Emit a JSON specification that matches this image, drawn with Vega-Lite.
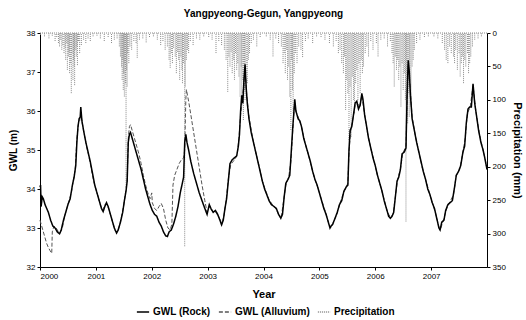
{
"$schema": "https://vega.github.io/schema/vega-lite/v6.json",
"width": 447, "height": 234,
"autosize": {"type": "none"},
"padding": {"left": 40, "top": 33, "right": 39, "bottom": 53},
"background": "white",
"title": {"text": "Yangpyeong-Gegun, Yangpyeong", "font": "Liberation Sans", "fontSize": 10, "fontWeight": "bold", "anchor": "middle", "offset": 10, "color": "black"},
"config": {
 "view": {"stroke": null},
 "axis": {"grid": false, "labelFont": "Liberation Sans", "titleFont": "Liberation Sans", "labelFontSize": 8, "titleFontSize": 10, "titleFontWeight": "bold", "domainColor": "black", "tickColor": "black", "labelColor": "black", "titleColor": "black", "tickSize": 3, "labelOverlap": false}
},
"datasets": {
 "rock": [
{"series":"GWL (Rock)","year":2000.00,"gwl":34.05},{"series":"GWL (Rock)","year":2000.01,"gwl":34.1},{"series":"GWL (Rock)","year":2000.02,"gwl":33.55},{"series":"GWL (Rock)","year":2000.04,"gwl":33.8},{"series":"GWL (Rock)","year":2000.06,"gwl":33.75},{"series":"GWL (Rock)","year":2000.09,"gwl":33.6},{"series":"GWL (Rock)","year":2000.12,"gwl":33.5},{"series":"GWL (Rock)","year":2000.15,"gwl":33.4},{"series":"GWL (Rock)","year":2000.19,"gwl":33.2},{"series":"GWL (Rock)","year":2000.23,"gwl":33.05},{"series":"GWL (Rock)","year":2000.27,"gwl":33.0},{"series":"GWL (Rock)","year":2000.31,"gwl":32.9},{"series":"GWL (Rock)","year":2000.35,"gwl":32.85},{"series":"GWL (Rock)","year":2000.38,"gwl":32.95},{"series":"GWL (Rock)","year":2000.42,"gwl":33.2},{"series":"GWL (Rock)","year":2000.46,"gwl":33.4},{"series":"GWL (Rock)","year":2000.50,"gwl":33.6},{"series":"GWL (Rock)","year":2000.54,"gwl":33.75},{"series":"GWL (Rock)","year":2000.58,"gwl":34.1},{"series":"GWL (Rock)","year":2000.61,"gwl":34.3},{"series":"GWL (Rock)","year":2000.64,"gwl":34.6},{"series":"GWL (Rock)","year":2000.66,"gwl":35.2},{"series":"GWL (Rock)","year":2000.68,"gwl":35.6},{"series":"GWL (Rock)","year":2000.70,"gwl":35.8},{"series":"GWL (Rock)","year":2000.72,"gwl":35.85},{"series":"GWL (Rock)","year":2000.73,"gwl":36.1},{"series":"GWL (Rock)","year":2000.75,"gwl":35.75},{"series":"GWL (Rock)","year":2000.78,"gwl":35.5},{"series":"GWL (Rock)","year":2000.82,"gwl":35.2},{"series":"GWL (Rock)","year":2000.86,"gwl":34.95},{"series":"GWL (Rock)","year":2000.90,"gwl":34.7},{"series":"GWL (Rock)","year":2000.94,"gwl":34.4},{"series":"GWL (Rock)","year":2000.98,"gwl":34.1},{"series":"GWL (Rock)","year":2001.02,"gwl":33.9},{"series":"GWL (Rock)","year":2001.06,"gwl":33.7},{"series":"GWL (Rock)","year":2001.10,"gwl":33.5},{"series":"GWL (Rock)","year":2001.13,"gwl":33.42},{"series":"GWL (Rock)","year":2001.16,"gwl":33.55},{"series":"GWL (Rock)","year":2001.19,"gwl":33.65},{"series":"GWL (Rock)","year":2001.22,"gwl":33.55},{"series":"GWL (Rock)","year":2001.25,"gwl":33.4},{"series":"GWL (Rock)","year":2001.29,"gwl":33.2},{"series":"GWL (Rock)","year":2001.33,"gwl":33.0},{"series":"GWL (Rock)","year":2001.37,"gwl":32.87},{"series":"GWL (Rock)","year":2001.40,"gwl":32.95},{"series":"GWL (Rock)","year":2001.44,"gwl":33.15},{"series":"GWL (Rock)","year":2001.48,"gwl":33.4},{"series":"GWL (Rock)","year":2001.51,"gwl":33.7},{"series":"GWL (Rock)","year":2001.54,"gwl":33.95},{"series":"GWL (Rock)","year":2001.56,"gwl":34.2},{"series":"GWL (Rock)","year":2001.58,"gwl":35.2},{"series":"GWL (Rock)","year":2001.60,"gwl":35.4},{"series":"GWL (Rock)","year":2001.62,"gwl":35.45},{"series":"GWL (Rock)","year":2001.65,"gwl":35.3},{"series":"GWL (Rock)","year":2001.69,"gwl":35.1},{"series":"GWL (Rock)","year":2001.73,"gwl":34.9},{"series":"GWL (Rock)","year":2001.77,"gwl":34.7},{"series":"GWL (Rock)","year":2001.81,"gwl":34.5},{"series":"GWL (Rock)","year":2001.85,"gwl":34.25},{"series":"GWL (Rock)","year":2001.89,"gwl":34.0},{"series":"GWL (Rock)","year":2001.93,"gwl":33.8},{"series":"GWL (Rock)","year":2001.97,"gwl":33.6},{"series":"GWL (Rock)","year":2002.01,"gwl":33.45},{"series":"GWL (Rock)","year":2002.05,"gwl":33.35},{"series":"GWL (Rock)","year":2002.09,"gwl":33.3},{"series":"GWL (Rock)","year":2002.13,"gwl":33.15},{"series":"GWL (Rock)","year":2002.17,"gwl":33.05},{"series":"GWL (Rock)","year":2002.21,"gwl":32.9},{"series":"GWL (Rock)","year":2002.25,"gwl":32.8},{"series":"GWL (Rock)","year":2002.28,"gwl":32.78},{"series":"GWL (Rock)","year":2002.31,"gwl":32.9},{"series":"GWL (Rock)","year":2002.35,"gwl":32.95},{"series":"GWL (Rock)","year":2002.39,"gwl":33.1},{"series":"GWL (Rock)","year":2002.43,"gwl":33.3},{"series":"GWL (Rock)","year":2002.47,"gwl":33.55},{"series":"GWL (Rock)","year":2002.51,"gwl":33.9},{"series":"GWL (Rock)","year":2002.54,"gwl":34.1},{"series":"GWL (Rock)","year":2002.57,"gwl":34.3},{"series":"GWL (Rock)","year":2002.59,"gwl":35.2},{"series":"GWL (Rock)","year":2002.61,"gwl":35.4},{"series":"GWL (Rock)","year":2002.63,"gwl":35.2},{"series":"GWL (Rock)","year":2002.66,"gwl":35.0},{"series":"GWL (Rock)","year":2002.70,"gwl":34.7},{"series":"GWL (Rock)","year":2002.75,"gwl":34.4},{"series":"GWL (Rock)","year":2002.80,"gwl":34.15},{"series":"GWL (Rock)","year":2002.85,"gwl":33.9},{"series":"GWL (Rock)","year":2002.90,"gwl":33.7},{"series":"GWL (Rock)","year":2002.95,"gwl":33.5},{"series":"GWL (Rock)","year":2002.99,"gwl":33.35},{"series":"GWL (Rock)","year":2003.03,"gwl":33.6},{"series":"GWL (Rock)","year":2003.06,"gwl":33.5},{"series":"GWL (Rock)","year":2003.10,"gwl":33.4},{"series":"GWL (Rock)","year":2003.14,"gwl":33.45},{"series":"GWL (Rock)","year":2003.18,"gwl":33.35},{"series":"GWL (Rock)","year":2003.22,"gwl":33.2},{"series":"GWL (Rock)","year":2003.25,"gwl":33.08},{"series":"GWL (Rock)","year":2003.28,"gwl":33.2},{"series":"GWL (Rock)","year":2003.31,"gwl":33.5},{"series":"GWL (Rock)","year":2003.34,"gwl":33.75},{"series":"GWL (Rock)","year":2003.37,"gwl":34.2},{"series":"GWL (Rock)","year":2003.40,"gwl":34.65},{"series":"GWL (Rock)","year":2003.44,"gwl":34.75},{"series":"GWL (Rock)","year":2003.48,"gwl":34.8},{"series":"GWL (Rock)","year":2003.52,"gwl":34.85},{"series":"GWL (Rock)","year":2003.55,"gwl":35.1},{"series":"GWL (Rock)","year":2003.57,"gwl":35.4},{"series":"GWL (Rock)","year":2003.59,"gwl":36.0},{"series":"GWL (Rock)","year":2003.61,"gwl":36.4},{"series":"GWL (Rock)","year":2003.63,"gwl":36.2},{"series":"GWL (Rock)","year":2003.65,"gwl":36.8},{"series":"GWL (Rock)","year":2003.67,"gwl":37.2},{"series":"GWL (Rock)","year":2003.69,"gwl":36.6},{"series":"GWL (Rock)","year":2003.71,"gwl":36.2},{"series":"GWL (Rock)","year":2003.74,"gwl":35.8},{"series":"GWL (Rock)","year":2003.78,"gwl":35.45},{"series":"GWL (Rock)","year":2003.82,"gwl":35.2},{"series":"GWL (Rock)","year":2003.86,"gwl":34.95},{"series":"GWL (Rock)","year":2003.90,"gwl":34.7},{"series":"GWL (Rock)","year":2003.94,"gwl":34.45},{"series":"GWL (Rock)","year":2003.98,"gwl":34.2},{"series":"GWL (Rock)","year":2004.02,"gwl":34.0},{"series":"GWL (Rock)","year":2004.06,"gwl":33.85},{"series":"GWL (Rock)","year":2004.10,"gwl":33.7},{"series":"GWL (Rock)","year":2004.14,"gwl":33.6},{"series":"GWL (Rock)","year":2004.19,"gwl":33.55},{"series":"GWL (Rock)","year":2004.23,"gwl":33.5},{"series":"GWL (Rock)","year":2004.27,"gwl":33.35},{"series":"GWL (Rock)","year":2004.31,"gwl":33.25},{"series":"GWL (Rock)","year":2004.34,"gwl":33.35},{"series":"GWL (Rock)","year":2004.37,"gwl":33.8},{"series":"GWL (Rock)","year":2004.40,"gwl":34.15},{"series":"GWL (Rock)","year":2004.44,"gwl":34.25},{"series":"GWL (Rock)","year":2004.47,"gwl":34.35},{"series":"GWL (Rock)","year":2004.49,"gwl":34.8},{"series":"GWL (Rock)","year":2004.52,"gwl":35.5},{"series":"GWL (Rock)","year":2004.54,"gwl":35.9},{"series":"GWL (Rock)","year":2004.56,"gwl":36.3},{"series":"GWL (Rock)","year":2004.58,"gwl":36.0},{"series":"GWL (Rock)","year":2004.60,"gwl":35.9},{"series":"GWL (Rock)","year":2004.62,"gwl":35.8},{"series":"GWL (Rock)","year":2004.65,"gwl":35.75},{"series":"GWL (Rock)","year":2004.68,"gwl":35.6},{"series":"GWL (Rock)","year":2004.72,"gwl":35.3},{"series":"GWL (Rock)","year":2004.76,"gwl":35.1},{"series":"GWL (Rock)","year":2004.80,"gwl":34.9},{"series":"GWL (Rock)","year":2004.84,"gwl":34.7},{"series":"GWL (Rock)","year":2004.88,"gwl":34.45},{"series":"GWL (Rock)","year":2004.92,"gwl":34.25},{"series":"GWL (Rock)","year":2004.96,"gwl":34.1},{"series":"GWL (Rock)","year":2005.00,"gwl":33.9},{"series":"GWL (Rock)","year":2005.04,"gwl":33.7},{"series":"GWL (Rock)","year":2005.08,"gwl":33.5},{"series":"GWL (Rock)","year":2005.12,"gwl":33.35},{"series":"GWL (Rock)","year":2005.16,"gwl":33.15},{"series":"GWL (Rock)","year":2005.19,"gwl":33.0},{"series":"GWL (Rock)","year":2005.21,"gwl":33.05},{"series":"GWL (Rock)","year":2005.24,"gwl":33.1},{"series":"GWL (Rock)","year":2005.28,"gwl":33.25},{"series":"GWL (Rock)","year":2005.32,"gwl":33.4},{"series":"GWL (Rock)","year":2005.36,"gwl":33.6},{"series":"GWL (Rock)","year":2005.40,"gwl":33.7},{"series":"GWL (Rock)","year":2005.44,"gwl":33.95},{"series":"GWL (Rock)","year":2005.48,"gwl":34.05},{"series":"GWL (Rock)","year":2005.51,"gwl":34.1},{"series":"GWL (Rock)","year":2005.53,"gwl":35.0},{"series":"GWL (Rock)","year":2005.55,"gwl":35.5},{"series":"GWL (Rock)","year":2005.58,"gwl":35.6},{"series":"GWL (Rock)","year":2005.61,"gwl":35.9},{"series":"GWL (Rock)","year":2005.64,"gwl":36.2},{"series":"GWL (Rock)","year":2005.67,"gwl":36.25},{"series":"GWL (Rock)","year":2005.70,"gwl":36.05},{"series":"GWL (Rock)","year":2005.73,"gwl":36.15},{"series":"GWL (Rock)","year":2005.76,"gwl":36.45},{"series":"GWL (Rock)","year":2005.78,"gwl":36.3},{"series":"GWL (Rock)","year":2005.81,"gwl":35.9},{"series":"GWL (Rock)","year":2005.84,"gwl":35.65},{"series":"GWL (Rock)","year":2005.88,"gwl":35.3},{"series":"GWL (Rock)","year":2005.92,"gwl":35.05},{"series":"GWL (Rock)","year":2005.96,"gwl":34.8},{"series":"GWL (Rock)","year":2006.00,"gwl":34.6},{"series":"GWL (Rock)","year":2006.04,"gwl":34.35},{"series":"GWL (Rock)","year":2006.08,"gwl":34.15},{"series":"GWL (Rock)","year":2006.12,"gwl":33.95},{"series":"GWL (Rock)","year":2006.16,"gwl":33.7},{"series":"GWL (Rock)","year":2006.20,"gwl":33.5},{"series":"GWL (Rock)","year":2006.24,"gwl":33.3},{"series":"GWL (Rock)","year":2006.27,"gwl":33.25},{"series":"GWL (Rock)","year":2006.30,"gwl":33.3},{"series":"GWL (Rock)","year":2006.33,"gwl":33.4},{"series":"GWL (Rock)","year":2006.36,"gwl":33.8},{"series":"GWL (Rock)","year":2006.39,"gwl":34.2},{"series":"GWL (Rock)","year":2006.42,"gwl":34.3},{"series":"GWL (Rock)","year":2006.45,"gwl":34.5},{"series":"GWL (Rock)","year":2006.48,"gwl":34.9},{"series":"GWL (Rock)","year":2006.52,"gwl":34.95},{"series":"GWL (Rock)","year":2006.55,"gwl":35.05},{"series":"GWL (Rock)","year":2006.57,"gwl":36.4},{"series":"GWL (Rock)","year":2006.59,"gwl":37.3},{"series":"GWL (Rock)","year":2006.61,"gwl":37.0},{"series":"GWL (Rock)","year":2006.63,"gwl":36.4},{"series":"GWL (Rock)","year":2006.66,"gwl":35.8},{"series":"GWL (Rock)","year":2006.70,"gwl":35.5},{"series":"GWL (Rock)","year":2006.74,"gwl":35.2},{"series":"GWL (Rock)","year":2006.78,"gwl":34.95},{"series":"GWL (Rock)","year":2006.82,"gwl":34.7},{"series":"GWL (Rock)","year":2006.86,"gwl":34.45},{"series":"GWL (Rock)","year":2006.90,"gwl":34.25},{"series":"GWL (Rock)","year":2006.94,"gwl":34.0},{"series":"GWL (Rock)","year":2006.98,"gwl":33.85},{"series":"GWL (Rock)","year":2007.02,"gwl":33.65},{"series":"GWL (Rock)","year":2007.06,"gwl":33.5},{"series":"GWL (Rock)","year":2007.10,"gwl":33.25},{"series":"GWL (Rock)","year":2007.14,"gwl":33.0},{"series":"GWL (Rock)","year":2007.16,"gwl":32.95},{"series":"GWL (Rock)","year":2007.19,"gwl":33.15},{"series":"GWL (Rock)","year":2007.23,"gwl":33.2},{"series":"GWL (Rock)","year":2007.26,"gwl":33.45},{"series":"GWL (Rock)","year":2007.30,"gwl":33.6},{"series":"GWL (Rock)","year":2007.34,"gwl":33.65},{"series":"GWL (Rock)","year":2007.38,"gwl":33.7},{"series":"GWL (Rock)","year":2007.42,"gwl":34.05},{"series":"GWL (Rock)","year":2007.45,"gwl":34.35},{"series":"GWL (Rock)","year":2007.49,"gwl":34.45},{"series":"GWL (Rock)","year":2007.53,"gwl":34.6},{"series":"GWL (Rock)","year":2007.57,"gwl":34.95},{"series":"GWL (Rock)","year":2007.60,"gwl":35.1},{"series":"GWL (Rock)","year":2007.63,"gwl":35.7},{"series":"GWL (Rock)","year":2007.66,"gwl":36.05},{"series":"GWL (Rock)","year":2007.69,"gwl":36.1},{"series":"GWL (Rock)","year":2007.72,"gwl":36.1},{"series":"GWL (Rock)","year":2007.75,"gwl":36.7},{"series":"GWL (Rock)","year":2007.78,"gwl":36.2},{"series":"GWL (Rock)","year":2007.81,"gwl":35.9},{"series":"GWL (Rock)","year":2007.85,"gwl":35.5},{"series":"GWL (Rock)","year":2007.89,"gwl":35.2},{"series":"GWL (Rock)","year":2007.93,"gwl":35.0},{"series":"GWL (Rock)","year":2007.96,"gwl":34.8},{"series":"GWL (Rock)","year":2008.00,"gwl":34.5}
 ],
 "alluvium": [
{"series":"GWL (Alluvium)","year":2000.00,"gwl":33.2},{"series":"GWL (Alluvium)","year":2000.03,"gwl":33.05},{"series":"GWL (Alluvium)","year":2000.06,"gwl":32.9},{"series":"GWL (Alluvium)","year":2000.09,"gwl":32.75},{"series":"GWL (Alluvium)","year":2000.12,"gwl":32.6},{"series":"GWL (Alluvium)","year":2000.15,"gwl":32.5},{"series":"GWL (Alluvium)","year":2000.18,"gwl":32.42},{"series":"GWL (Alluvium)","year":2000.21,"gwl":32.35},{"series":"GWL (Alluvium)","year":2000.22,"gwl":32.9},{"series":"GWL (Alluvium)","year":2000.25,"gwl":33.05},{"series":"GWL (Alluvium)","year":2000.29,"gwl":33.0},{"series":"GWL (Alluvium)","year":2000.33,"gwl":32.9},{"series":"GWL (Alluvium)","year":2000.36,"gwl":32.88},{"series":"GWL (Alluvium)","year":2000.40,"gwl":33.0},{"series":"GWL (Alluvium)","year":2000.44,"gwl":33.3},{"series":"GWL (Alluvium)","year":2000.48,"gwl":33.5},{"series":"GWL (Alluvium)","year":2000.52,"gwl":33.7},{"series":"GWL (Alluvium)","year":2000.56,"gwl":33.9},{"series":"GWL (Alluvium)","year":2000.60,"gwl":34.25},{"series":"GWL (Alluvium)","year":2000.63,"gwl":34.5},{"series":"GWL (Alluvium)","year":2000.66,"gwl":35.3},{"series":"GWL (Alluvium)","year":2000.69,"gwl":35.7},{"series":"GWL (Alluvium)","year":2000.71,"gwl":35.75},{"series":"GWL (Alluvium)","year":2000.73,"gwl":35.95},{"series":"GWL (Alluvium)","year":2000.76,"gwl":35.65},{"series":"GWL (Alluvium)","year":2000.80,"gwl":35.35},{"series":"GWL (Alluvium)","year":2000.84,"gwl":35.05},{"series":"GWL (Alluvium)","year":2000.88,"gwl":34.8},{"series":"GWL (Alluvium)","year":2000.92,"gwl":34.5},{"series":"GWL (Alluvium)","year":2000.96,"gwl":34.2},{"series":"GWL (Alluvium)","year":2001.00,"gwl":34.0},{"series":"GWL (Alluvium)","year":2001.04,"gwl":33.8},{"series":"GWL (Alluvium)","year":2001.08,"gwl":33.6},{"series":"GWL (Alluvium)","year":2001.12,"gwl":33.45},{"series":"GWL (Alluvium)","year":2001.16,"gwl":33.6},{"series":"GWL (Alluvium)","year":2001.19,"gwl":33.62},{"series":"GWL (Alluvium)","year":2001.23,"gwl":33.5},{"series":"GWL (Alluvium)","year":2001.27,"gwl":33.3},{"series":"GWL (Alluvium)","year":2001.31,"gwl":33.1},{"series":"GWL (Alluvium)","year":2001.35,"gwl":32.92},{"series":"GWL (Alluvium)","year":2001.38,"gwl":32.9},{"series":"GWL (Alluvium)","year":2001.42,"gwl":33.05},{"series":"GWL (Alluvium)","year":2001.46,"gwl":33.3},{"series":"GWL (Alluvium)","year":2001.50,"gwl":33.6},{"series":"GWL (Alluvium)","year":2001.53,"gwl":33.9},{"series":"GWL (Alluvium)","year":2001.56,"gwl":34.2},{"series":"GWL (Alluvium)","year":2001.58,"gwl":35.3},{"series":"GWL (Alluvium)","year":2001.60,"gwl":35.6},{"series":"GWL (Alluvium)","year":2001.62,"gwl":35.65},{"series":"GWL (Alluvium)","year":2001.65,"gwl":35.5},{"series":"GWL (Alluvium)","year":2001.69,"gwl":35.3},{"series":"GWL (Alluvium)","year":2001.73,"gwl":35.1},{"series":"GWL (Alluvium)","year":2001.77,"gwl":34.9},{"series":"GWL (Alluvium)","year":2001.81,"gwl":34.65},{"series":"GWL (Alluvium)","year":2001.85,"gwl":34.35},{"series":"GWL (Alluvium)","year":2001.89,"gwl":34.1},{"series":"GWL (Alluvium)","year":2001.93,"gwl":33.9},{"series":"GWL (Alluvium)","year":2001.97,"gwl":33.75},{"series":"GWL (Alluvium)","year":2002.00,"gwl":33.9},{"series":"GWL (Alluvium)","year":2002.01,"gwl":33.65},{"series":"GWL (Alluvium)","year":2002.05,"gwl":33.5},{"series":"GWL (Alluvium)","year":2002.09,"gwl":33.45},{"series":"GWL (Alluvium)","year":2002.13,"gwl":33.55},{"series":"GWL (Alluvium)","year":2002.17,"gwl":33.63},{"series":"GWL (Alluvium)","year":2002.21,"gwl":33.5},{"series":"GWL (Alluvium)","year":2002.25,"gwl":33.2},{"series":"GWL (Alluvium)","year":2002.29,"gwl":33.0},{"series":"GWL (Alluvium)","year":2002.33,"gwl":32.95},{"series":"GWL (Alluvium)","year":2002.36,"gwl":33.1},{"series":"GWL (Alluvium)","year":2002.38,"gwl":34.1},{"series":"GWL (Alluvium)","year":2002.41,"gwl":34.35},{"series":"GWL (Alluvium)","year":2002.45,"gwl":34.5},{"series":"GWL (Alluvium)","year":2002.49,"gwl":34.65},{"series":"GWL (Alluvium)","year":2002.53,"gwl":34.75},{"series":"GWL (Alluvium)","year":2002.57,"gwl":34.8},{"series":"GWL (Alluvium)","year":2002.59,"gwl":35.0},{"series":"GWL (Alluvium)","year":2002.61,"gwl":36.3},{"series":"GWL (Alluvium)","year":2002.62,"gwl":36.55},{"series":"GWL (Alluvium)","year":2002.66,"gwl":36.25},{"series":"GWL (Alluvium)","year":2002.70,"gwl":35.9},{"series":"GWL (Alluvium)","year":2002.75,"gwl":35.45},{"series":"GWL (Alluvium)","year":2002.80,"gwl":35.0},{"series":"GWL (Alluvium)","year":2002.85,"gwl":34.55},{"series":"GWL (Alluvium)","year":2002.90,"gwl":34.1},{"series":"GWL (Alluvium)","year":2002.95,"gwl":33.7},{"series":"GWL (Alluvium)","year":2002.99,"gwl":33.4},{"series":"GWL (Alluvium)","year":2003.03,"gwl":33.55},{"series":"GWL (Alluvium)","year":2003.07,"gwl":33.45},{"series":"GWL (Alluvium)","year":2003.11,"gwl":33.4},{"series":"GWL (Alluvium)","year":2003.15,"gwl":33.4},{"series":"GWL (Alluvium)","year":2003.19,"gwl":33.3},{"series":"GWL (Alluvium)","year":2003.23,"gwl":33.2},{"series":"GWL (Alluvium)","year":2003.26,"gwl":33.15},{"series":"GWL (Alluvium)","year":2003.29,"gwl":33.3},{"series":"GWL (Alluvium)","year":2003.33,"gwl":33.7},{"series":"GWL (Alluvium)","year":2003.37,"gwl":34.25},{"series":"GWL (Alluvium)","year":2003.41,"gwl":34.6},{"series":"GWL (Alluvium)","year":2003.45,"gwl":34.7},{"series":"GWL (Alluvium)","year":2003.49,"gwl":34.75},{"series":"GWL (Alluvium)","year":2003.53,"gwl":34.9},{"series":"GWL (Alluvium)","year":2003.56,"gwl":35.3},{"series":"GWL (Alluvium)","year":2003.59,"gwl":35.9},{"series":"GWL (Alluvium)","year":2003.62,"gwl":36.3},{"series":"GWL (Alluvium)","year":2003.65,"gwl":36.7},{"series":"GWL (Alluvium)","year":2003.67,"gwl":37.1},{"series":"GWL (Alluvium)","year":2003.70,"gwl":36.4},{"series":"GWL (Alluvium)","year":2003.74,"gwl":35.85},{"series":"GWL (Alluvium)","year":2003.80,"gwl":35.35},{"series":"GWL (Alluvium)","year":2003.86,"gwl":34.95},{"series":"GWL (Alluvium)","year":2003.92,"gwl":34.6},{"series":"GWL (Alluvium)","year":2003.98,"gwl":34.2},{"series":"GWL (Alluvium)","year":2004.04,"gwl":33.95},{"series":"GWL (Alluvium)","year":2004.10,"gwl":33.72},{"series":"GWL (Alluvium)","year":2004.16,"gwl":33.6},{"series":"GWL (Alluvium)","year":2004.22,"gwl":33.5},{"series":"GWL (Alluvium)","year":2004.28,"gwl":33.32},{"series":"GWL (Alluvium)","year":2004.32,"gwl":33.3},{"series":"GWL (Alluvium)","year":2004.36,"gwl":33.7},{"series":"GWL (Alluvium)","year":2004.40,"gwl":34.1},{"series":"GWL (Alluvium)","year":2004.45,"gwl":34.3},{"series":"GWL (Alluvium)","year":2004.49,"gwl":34.7},{"series":"GWL (Alluvium)","year":2004.52,"gwl":35.4},{"series":"GWL (Alluvium)","year":2004.55,"gwl":36.1},{"series":"GWL (Alluvium)","year":2004.58,"gwl":36.0},{"series":"GWL (Alluvium)","year":2004.62,"gwl":35.85},{"series":"GWL (Alluvium)","year":2004.68,"gwl":35.6},{"series":"GWL (Alluvium)","year":2004.74,"gwl":35.2},{"series":"GWL (Alluvium)","year":2004.80,"gwl":34.9},{"series":"GWL (Alluvium)","year":2004.86,"gwl":34.55},{"series":"GWL (Alluvium)","year":2004.92,"gwl":34.25},{"series":"GWL (Alluvium)","year":2004.98,"gwl":34.0},{"series":"GWL (Alluvium)","year":2005.04,"gwl":33.72},{"series":"GWL (Alluvium)","year":2005.10,"gwl":33.45},{"series":"GWL (Alluvium)","year":2005.16,"gwl":33.15},{"series":"GWL (Alluvium)","year":2005.20,"gwl":33.0},{"series":"GWL (Alluvium)","year":2005.24,"gwl":33.12},{"series":"GWL (Alluvium)","year":2005.30,"gwl":33.3},{"series":"GWL (Alluvium)","year":2005.36,"gwl":33.6},{"series":"GWL (Alluvium)","year":2005.42,"gwl":33.85},{"series":"GWL (Alluvium)","year":2005.48,"gwl":34.05},{"series":"GWL (Alluvium)","year":2005.51,"gwl":34.15},{"series":"GWL (Alluvium)","year":2005.53,"gwl":34.95},{"series":"GWL (Alluvium)","year":2005.56,"gwl":35.5},{"series":"GWL (Alluvium)","year":2005.60,"gwl":35.8},{"series":"GWL (Alluvium)","year":2005.64,"gwl":36.15},{"series":"GWL (Alluvium)","year":2005.68,"gwl":36.2},{"series":"GWL (Alluvium)","year":2005.72,"gwl":36.1},{"series":"GWL (Alluvium)","year":2005.76,"gwl":36.4},{"series":"GWL (Alluvium)","year":2005.80,"gwl":36.0},{"series":"GWL (Alluvium)","year":2005.86,"gwl":35.45},{"series":"GWL (Alluvium)","year":2005.92,"gwl":35.05},{"series":"GWL (Alluvium)","year":2005.98,"gwl":34.7},{"series":"GWL (Alluvium)","year":2006.04,"gwl":34.35},{"series":"GWL (Alluvium)","year":2006.10,"gwl":34.05},{"series":"GWL (Alluvium)","year":2006.16,"gwl":33.72},{"series":"GWL (Alluvium)","year":2006.22,"gwl":33.4},{"series":"GWL (Alluvium)","year":2006.27,"gwl":33.28},{"series":"GWL (Alluvium)","year":2006.32,"gwl":33.35},{"series":"GWL (Alluvium)","year":2006.36,"gwl":33.8},{"series":"GWL (Alluvium)","year":2006.40,"gwl":34.25},{"series":"GWL (Alluvium)","year":2006.45,"gwl":34.5},{"series":"GWL (Alluvium)","year":2006.49,"gwl":34.9},{"series":"GWL (Alluvium)","year":2006.55,"gwl":35.1},{"series":"GWL (Alluvium)","year":2006.57,"gwl":36.3},{"series":"GWL (Alluvium)","year":2006.59,"gwl":37.2},{"series":"GWL (Alluvium)","year":2006.62,"gwl":36.7},{"series":"GWL (Alluvium)","year":2006.66,"gwl":35.85},{"series":"GWL (Alluvium)","year":2006.72,"gwl":35.35},{"series":"GWL (Alluvium)","year":2006.78,"gwl":34.95},{"series":"GWL (Alluvium)","year":2006.84,"gwl":34.55},{"series":"GWL (Alluvium)","year":2006.90,"gwl":34.25},{"series":"GWL (Alluvium)","year":2006.96,"gwl":33.95},{"series":"GWL (Alluvium)","year":2007.02,"gwl":33.65},{"series":"GWL (Alluvium)","year":2007.08,"gwl":33.38},{"series":"GWL (Alluvium)","year":2007.14,"gwl":33.02},{"series":"GWL (Alluvium)","year":2007.17,"gwl":32.98},{"series":"GWL (Alluvium)","year":2007.22,"gwl":33.2},{"series":"GWL (Alluvium)","year":2007.28,"gwl":33.5},{"series":"GWL (Alluvium)","year":2007.34,"gwl":33.68},{"series":"GWL (Alluvium)","year":2007.40,"gwl":33.85},{"series":"GWL (Alluvium)","year":2007.45,"gwl":34.35},{"series":"GWL (Alluvium)","year":2007.51,"gwl":34.5},{"series":"GWL (Alluvium)","year":2007.57,"gwl":34.95},{"series":"GWL (Alluvium)","year":2007.61,"gwl":35.3},{"series":"GWL (Alluvium)","year":2007.65,"gwl":35.95},{"series":"GWL (Alluvium)","year":2007.70,"gwl":36.1},{"series":"GWL (Alluvium)","year":2007.75,"gwl":36.65},{"series":"GWL (Alluvium)","year":2007.80,"gwl":36.0},{"series":"GWL (Alluvium)","year":2007.86,"gwl":35.45},{"series":"GWL (Alluvium)","year":2007.92,"gwl":35.05},{"series":"GWL (Alluvium)","year":2007.97,"gwl":34.75},{"series":"GWL (Alluvium)","year":2008.00,"gwl":34.5}
 ],
 "precip": [
{"series":"Precipitation","year":2000.01,"mm":3},{"series":"Precipitation","year":2000.08,"mm":5},{"series":"Precipitation","year":2000.16,"mm":8},{"series":"Precipitation","year":2000.22,"mm":4},{"series":"Precipitation","year":2000.27,"mm":12},{"series":"Precipitation","year":2000.30,"mm":6},{"series":"Precipitation","year":2000.33,"mm":15},{"series":"Precipitation","year":2000.35,"mm":20},{"series":"Precipitation","year":2000.37,"mm":10},{"series":"Precipitation","year":2000.39,"mm":25},{"series":"Precipitation","year":2000.41,"mm":18},{"series":"Precipitation","year":2000.43,"mm":30},{"series":"Precipitation","year":2000.45,"mm":22},{"series":"Precipitation","year":2000.46,"mm":40},{"series":"Precipitation","year":2000.48,"mm":15},{"series":"Precipitation","year":2000.49,"mm":55},{"series":"Precipitation","year":2000.51,"mm":35},{"series":"Precipitation","year":2000.52,"mm":28},{"series":"Precipitation","year":2000.53,"mm":60},{"series":"Precipitation","year":2000.55,"mm":45},{"series":"Precipitation","year":2000.56,"mm":90},{"series":"Precipitation","year":2000.57,"mm":30},{"series":"Precipitation","year":2000.59,"mm":70},{"series":"Precipitation","year":2000.60,"mm":40},{"series":"Precipitation","year":2000.61,"mm":50},{"series":"Precipitation","year":2000.62,"mm":78},{"series":"Precipitation","year":2000.63,"mm":25},{"series":"Precipitation","year":2000.65,"mm":35},{"series":"Precipitation","year":2000.66,"mm":20},{"series":"Precipitation","year":2000.67,"mm":48},{"series":"Precipitation","year":2000.69,"mm":12},{"series":"Precipitation","year":2000.71,"mm":30},{"series":"Precipitation","year":2000.74,"mm":18},{"series":"Precipitation","year":2000.78,"mm":10},{"series":"Precipitation","year":2000.82,"mm":15},{"series":"Precipitation","year":2000.86,"mm":8},{"series":"Precipitation","year":2000.90,"mm":12},{"series":"Precipitation","year":2000.95,"mm":5},
{"series":"Precipitation","year":2001.02,"mm":4},{"series":"Precipitation","year":2001.08,"mm":8},{"series":"Precipitation","year":2001.15,"mm":12},{"series":"Precipitation","year":2001.22,"mm":6},{"series":"Precipitation","year":2001.28,"mm":15},{"series":"Precipitation","year":2001.33,"mm":10},{"series":"Precipitation","year":2001.38,"mm":8},{"series":"Precipitation","year":2001.42,"mm":20},{"series":"Precipitation","year":2001.44,"mm":35},{"series":"Precipitation","year":2001.46,"mm":50},{"series":"Precipitation","year":2001.47,"mm":70},{"series":"Precipitation","year":2001.48,"mm":40},{"series":"Precipitation","year":2001.49,"mm":85},{"series":"Precipitation","year":2001.50,"mm":60},{"series":"Precipitation","year":2001.51,"mm":95},{"series":"Precipitation","year":2001.52,"mm":45},{"series":"Precipitation","year":2001.53,"mm":75},{"series":"Precipitation","year":2001.54,"mm":230},{"series":"Precipitation","year":2001.55,"mm":55},{"series":"Precipitation","year":2001.56,"mm":80},{"series":"Precipitation","year":2001.57,"mm":30},{"series":"Precipitation","year":2001.59,"mm":45},{"series":"Precipitation","year":2001.61,"mm":20},{"series":"Precipitation","year":2001.64,"mm":25},{"series":"Precipitation","year":2001.68,"mm":12},{"series":"Precipitation","year":2001.72,"mm":15},{"series":"Precipitation","year":2001.74,"mm":37},{"series":"Precipitation","year":2001.78,"mm":10},{"series":"Precipitation","year":2001.84,"mm":8},{"series":"Precipitation","year":2001.90,"mm":14},{"series":"Precipitation","year":2001.96,"mm":6},
{"series":"Precipitation","year":2002.03,"mm":5},{"series":"Precipitation","year":2002.10,"mm":10},{"series":"Precipitation","year":2002.16,"mm":18},{"series":"Precipitation","year":2002.20,"mm":12},{"series":"Precipitation","year":2002.24,"mm":25},{"series":"Precipitation","year":2002.28,"mm":20},{"series":"Precipitation","year":2002.31,"mm":40},{"series":"Precipitation","year":2002.33,"mm":52},{"series":"Precipitation","year":2002.35,"mm":30},{"series":"Precipitation","year":2002.37,"mm":45},{"series":"Precipitation","year":2002.39,"mm":22},{"series":"Precipitation","year":2002.42,"mm":35},{"series":"Precipitation","year":2002.44,"mm":60},{"series":"Precipitation","year":2002.46,"mm":28},{"series":"Precipitation","year":2002.48,"mm":40},{"series":"Precipitation","year":2002.50,"mm":70},{"series":"Precipitation","year":2002.52,"mm":35},{"series":"Precipitation","year":2002.54,"mm":55},{"series":"Precipitation","year":2002.55,"mm":75},{"series":"Precipitation","year":2002.57,"mm":45},{"series":"Precipitation","year":2002.59,"mm":319},{"series":"Precipitation","year":2002.60,"mm":80},{"series":"Precipitation","year":2002.62,"mm":40},{"series":"Precipitation","year":2002.64,"mm":25},{"series":"Precipitation","year":2002.66,"mm":30},{"series":"Precipitation","year":2002.69,"mm":12},{"series":"Precipitation","year":2002.74,"mm":18},{"series":"Precipitation","year":2002.80,"mm":8},{"series":"Precipitation","year":2002.86,"mm":10},{"series":"Precipitation","year":2002.93,"mm":5},
{"series":"Precipitation","year":2003.02,"mm":6},{"series":"Precipitation","year":2003.08,"mm":10},{"series":"Precipitation","year":2003.15,"mm":30},{"series":"Precipitation","year":2003.20,"mm":12},{"series":"Precipitation","year":2003.25,"mm":18},{"series":"Precipitation","year":2003.30,"mm":25},{"series":"Precipitation","year":2003.33,"mm":40},{"series":"Precipitation","year":2003.36,"mm":88},{"series":"Precipitation","year":2003.38,"mm":35},{"series":"Precipitation","year":2003.40,"mm":50},{"series":"Precipitation","year":2003.42,"mm":28},{"series":"Precipitation","year":2003.44,"mm":60},{"series":"Precipitation","year":2003.46,"mm":40},{"series":"Precipitation","year":2003.48,"mm":70},{"series":"Precipitation","year":2003.50,"mm":30},{"series":"Precipitation","year":2003.52,"mm":55},{"series":"Precipitation","year":2003.54,"mm":45},{"series":"Precipitation","year":2003.56,"mm":65},{"series":"Precipitation","year":2003.58,"mm":95},{"series":"Precipitation","year":2003.60,"mm":50},{"series":"Precipitation","year":2003.61,"mm":110},{"series":"Precipitation","year":2003.63,"mm":70},{"series":"Precipitation","year":2003.64,"mm":130},{"series":"Precipitation","year":2003.66,"mm":85},{"series":"Precipitation","year":2003.67,"mm":100},{"series":"Precipitation","year":2003.69,"mm":60},{"series":"Precipitation","year":2003.71,"mm":75},{"series":"Precipitation","year":2003.73,"mm":40},{"series":"Precipitation","year":2003.75,"mm":30},{"series":"Precipitation","year":2003.78,"mm":15},{"series":"Precipitation","year":2003.82,"mm":10},{"series":"Precipitation","year":2003.88,"mm":20},{"series":"Precipitation","year":2003.94,"mm":6},
{"series":"Precipitation","year":2004.05,"mm":5},{"series":"Precipitation","year":2004.12,"mm":10},{"series":"Precipitation","year":2004.17,"mm":35},{"series":"Precipitation","year":2004.22,"mm":8},{"series":"Precipitation","year":2004.27,"mm":15},{"series":"Precipitation","year":2004.32,"mm":20},{"series":"Precipitation","year":2004.35,"mm":45},{"series":"Precipitation","year":2004.37,"mm":30},{"series":"Precipitation","year":2004.39,"mm":60},{"series":"Precipitation","year":2004.41,"mm":25},{"series":"Precipitation","year":2004.43,"mm":70},{"series":"Precipitation","year":2004.45,"mm":50},{"series":"Precipitation","year":2004.47,"mm":95},{"series":"Precipitation","year":2004.49,"mm":145},{"series":"Precipitation","year":2004.50,"mm":40},{"series":"Precipitation","year":2004.52,"mm":85},{"series":"Precipitation","year":2004.53,"mm":120},{"series":"Precipitation","year":2004.55,"mm":60},{"series":"Precipitation","year":2004.57,"mm":30},{"series":"Precipitation","year":2004.60,"mm":45},{"series":"Precipitation","year":2004.63,"mm":20},{"series":"Precipitation","year":2004.67,"mm":25},{"series":"Precipitation","year":2004.70,"mm":36},{"series":"Precipitation","year":2004.75,"mm":12},{"series":"Precipitation","year":2004.80,"mm":8},{"series":"Precipitation","year":2004.88,"mm":15},{"series":"Precipitation","year":2004.95,"mm":5},
{"series":"Precipitation","year":2005.03,"mm":6},{"series":"Precipitation","year":2005.10,"mm":10},{"series":"Precipitation","year":2005.18,"mm":15},{"series":"Precipitation","year":2005.25,"mm":20},{"series":"Precipitation","year":2005.30,"mm":12},{"series":"Precipitation","year":2005.34,"mm":30},{"series":"Precipitation","year":2005.37,"mm":25},{"series":"Precipitation","year":2005.40,"mm":45},{"series":"Precipitation","year":2005.43,"mm":60},{"series":"Precipitation","year":2005.45,"mm":35},{"series":"Precipitation","year":2005.47,"mm":115},{"series":"Precipitation","year":2005.49,"mm":70},{"series":"Precipitation","year":2005.51,"mm":90},{"series":"Precipitation","year":2005.53,"mm":160},{"series":"Precipitation","year":2005.55,"mm":80},{"series":"Precipitation","year":2005.57,"mm":155},{"series":"Precipitation","year":2005.59,"mm":65},{"series":"Precipitation","year":2005.61,"mm":100},{"series":"Precipitation","year":2005.63,"mm":120},{"series":"Precipitation","year":2005.65,"mm":75},{"series":"Precipitation","year":2005.67,"mm":55},{"series":"Precipitation","year":2005.69,"mm":100},{"series":"Precipitation","year":2005.71,"mm":45},{"series":"Precipitation","year":2005.73,"mm":90},{"series":"Precipitation","year":2005.75,"mm":40},{"series":"Precipitation","year":2005.77,"mm":60},{"series":"Precipitation","year":2005.79,"mm":50},{"series":"Precipitation","year":2005.82,"mm":30},{"series":"Precipitation","year":2005.85,"mm":20},{"series":"Precipitation","year":2005.88,"mm":35},{"series":"Precipitation","year":2005.92,"mm":12},{"series":"Precipitation","year":2005.96,"mm":25},
{"series":"Precipitation","year":2006.02,"mm":15},{"series":"Precipitation","year":2006.05,"mm":35},{"series":"Precipitation","year":2006.10,"mm":10},{"series":"Precipitation","year":2006.16,"mm":8},{"series":"Precipitation","year":2006.22,"mm":20},{"series":"Precipitation","year":2006.27,"mm":12},{"series":"Precipitation","year":2006.30,"mm":30},{"series":"Precipitation","year":2006.32,"mm":45},{"series":"Precipitation","year":2006.34,"mm":80},{"series":"Precipitation","year":2006.36,"mm":35},{"series":"Precipitation","year":2006.38,"mm":55},{"series":"Precipitation","year":2006.40,"mm":40},{"series":"Precipitation","year":2006.42,"mm":70},{"series":"Precipitation","year":2006.44,"mm":50},{"series":"Precipitation","year":2006.46,"mm":110},{"series":"Precipitation","year":2006.48,"mm":45},{"series":"Precipitation","year":2006.50,"mm":85},{"series":"Precipitation","year":2006.52,"mm":60},{"series":"Precipitation","year":2006.54,"mm":100},{"series":"Precipitation","year":2006.55,"mm":282},{"series":"Precipitation","year":2006.56,"mm":120},{"series":"Precipitation","year":2006.58,"mm":135},{"series":"Precipitation","year":2006.59,"mm":90},{"series":"Precipitation","year":2006.61,"mm":125},{"series":"Precipitation","year":2006.62,"mm":70},{"series":"Precipitation","year":2006.64,"mm":110},{"series":"Precipitation","year":2006.66,"mm":50},{"series":"Precipitation","year":2006.68,"mm":40},{"series":"Precipitation","year":2006.70,"mm":25},{"series":"Precipitation","year":2006.74,"mm":15},{"series":"Precipitation","year":2006.80,"mm":10},{"series":"Precipitation","year":2006.88,"mm":6},{"series":"Precipitation","year":2006.95,"mm":5},
{"series":"Precipitation","year":2007.05,"mm":5},{"series":"Precipitation","year":2007.12,"mm":8},{"series":"Precipitation","year":2007.20,"mm":15},{"series":"Precipitation","year":2007.24,"mm":25},{"series":"Precipitation","year":2007.27,"mm":40},{"series":"Precipitation","year":2007.30,"mm":45},{"series":"Precipitation","year":2007.33,"mm":20},{"series":"Precipitation","year":2007.36,"mm":30},{"series":"Precipitation","year":2007.40,"mm":35},{"series":"Precipitation","year":2007.42,"mm":45},{"series":"Precipitation","year":2007.44,"mm":25},{"series":"Precipitation","year":2007.47,"mm":55},{"series":"Precipitation","year":2007.50,"mm":30},{"series":"Precipitation","year":2007.52,"mm":65},{"series":"Precipitation","year":2007.54,"mm":45},{"series":"Precipitation","year":2007.56,"mm":35},{"series":"Precipitation","year":2007.58,"mm":75},{"series":"Precipitation","year":2007.60,"mm":40},{"series":"Precipitation","year":2007.62,"mm":50},{"series":"Precipitation","year":2007.65,"mm":30},{"series":"Precipitation","year":2007.67,"mm":60},{"series":"Precipitation","year":2007.69,"mm":45},{"series":"Precipitation","year":2007.71,"mm":35},{"series":"Precipitation","year":2007.74,"mm":20},{"series":"Precipitation","year":2007.78,"mm":10},{"series":"Precipitation","year":2007.84,"mm":8},{"series":"Precipitation","year":2007.90,"mm":5}
 ]
},
"layer": [
 {
  "layer": [
   {
    "data": {"name": "precip"},
    "mark": {"type": "rule", "strokeWidth": 1},
    "encoding": {
     "x": {"field": "year", "type": "quantitative", "scale": {"domain": [2000, 2008], "nice": false, "zero": false}, "axis": {"title": "Year", "values": [2000,2001,2002,2003,2004,2005,2006,2007], "format": "d", "titlePadding": 8, "titleFontSize": 11}},
     "y": {"field": "mm", "type": "quantitative", "scale": {"domain": [0, 350], "reverse": true, "nice": false}, "axis": {"orient": "right", "title": "Precipitation (mm)", "values": [0,50,100,150,200,250,300,350], "titleAngle": 90, "titleFontSize": 11, "titlePadding": 6}},
     "y2": {"datum": 0},
     "color": {"field": "series", "type": "nominal", "scale": {"domain": ["GWL (Rock)", "GWL (Alluvium)", "Precipitation"], "range": ["#000000", "#555555", "#8a8a8a"]}, "legend": {"title": null, "orient": "none", "legendX": 96, "legendY": 272, "direction": "horizontal", "symbolType": "stroke", "symbolSize": 150, "symbolStrokeWidth": 1.5, "labelFont": "Liberation Sans", "labelFontWeight": "bold", "labelFontSize": 10, "labelColor": "black", "columnPadding": 4, "labelOffset": 3}},
     "strokeDash": {"field": "series", "type": "nominal", "scale": {"domain": ["GWL (Rock)", "GWL (Alluvium)", "Precipitation"], "range": [[1, 0], [4, 2], [1, 1]]}, "legend": {"title": null, "orient": "none", "legendX": 96, "legendY": 272, "direction": "horizontal", "symbolType": "stroke", "symbolSize": 150, "symbolStrokeWidth": 1.5, "labelFont": "Liberation Sans", "labelFontWeight": "bold", "labelFontSize": 10, "labelColor": "black", "columnPadding": 4, "labelOffset": 3}}
    }
   },
   {
    "data": {"values": [{"base": 0}]},
    "mark": {"type": "rule", "color": "#8a8a8a", "strokeDash": [1, 1], "strokeWidth": 1},
    "encoding": {"y": {"field": "base", "type": "quantitative", "axis": {"orient": "right", "title": "Precipitation (mm)", "values": [0,50,100,150,200,250,300,350], "titleAngle": 90, "titleFontSize": 11, "titlePadding": 6}}}
   }
  ]
 },
 {
  "layer": [
   {
    "data": {"name": "alluvium"},
    "mark": {"type": "line", "strokeWidth": 1},
    "encoding": {
     "x": {"field": "year", "type": "quantitative", "axis": {"title": "Year", "values": [2000,2001,2002,2003,2004,2005,2006,2007], "format": "d", "titlePadding": 8, "titleFontSize": 11}},
     "y": {"field": "gwl", "type": "quantitative", "scale": {"domain": [32, 38], "nice": false, "zero": false}, "axis": {"title": "GWL (m)", "values": [32,33,34,35,36,37,38], "titleFontSize": 10, "titlePadding": 8}},
     "color": {"field": "series", "type": "nominal"},
     "strokeDash": {"field": "series", "type": "nominal"}
    }
   },
   {
    "data": {"name": "rock"},
    "mark": {"type": "line", "strokeWidth": 1.5},
    "encoding": {
     "x": {"field": "year", "type": "quantitative", "axis": {"title": "Year", "values": [2000,2001,2002,2003,2004,2005,2006,2007], "format": "d", "titlePadding": 8, "titleFontSize": 11}},
     "y": {"field": "gwl", "type": "quantitative", "axis": {"title": "GWL (m)", "values": [32,33,34,35,36,37,38], "titleFontSize": 10, "titlePadding": 8}},
     "color": {"field": "series", "type": "nominal"},
     "strokeDash": {"field": "series", "type": "nominal"}
    }
   }
  ]
 }
],
"resolve": {"scale": {"y": "independent"}}
}
